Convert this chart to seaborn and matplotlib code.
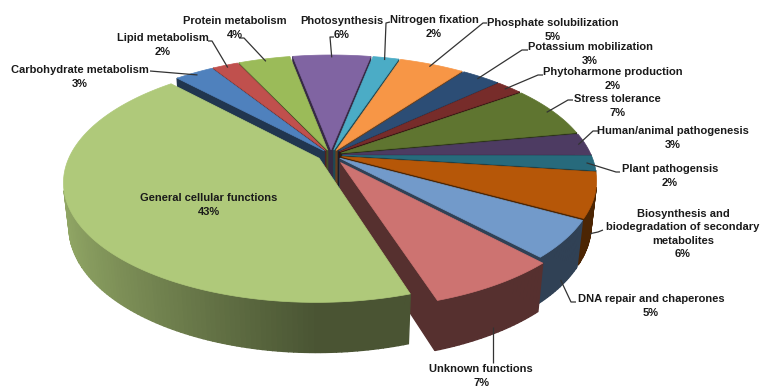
import numpy as np
import matplotlib
matplotlib.use("Agg")
import matplotlib.pyplot as plt
from matplotlib.patches import Polygon
import matplotlib.colors as mcolors
import seaborn as sns

# ---- data -------------------------------------------------------------
categories = [
    "Carbohydrate metabolism", "Lipid metabolism", "Protein metabolism",
    "Photosynthesis", "Nitrogen fixation", "Phosphate solubilization",
    "Potassium mobilization", "Phytoharmone production", "Stress tolerance",
    "Human/animal pathogenesis", "Plant pathogensis",
    "Biosynthesis and\nbiodegradation of secondary\nmetabolites",
    "DNA repair and chaperones", "Unknown functions",
    "General cellular functions",
]
shares = [3, 2, 4, 6, 2, 5, 3, 2, 7, 3, 2, 6, 5, 7, 43]

# ---- style ------------------------------------------------------------
colors = [
    "#4F81BD", "#C0504D", "#9BBB59", "#8064A2", "#4BACC6", "#F79646",
    "#2C4D75", "#772C2A", "#5F7530", "#4D3B62", "#276A7C", "#B65708",
    "#729ACA", "#CD7371", "#AFC97A",
]
explode = [0.045] * 13 + [0.075, 0.055]

# label block centres and the start/elbow of each leader (pixel space)
label_pos = [
    (80, 77), (163, 45), (235, 28), (342, 28), (434, 27), (553, 30),
    (590, 54), (613, 79), (617, 106), (673, 138), (670, 176), (683, 234),
    (651, 306), (481, 376), (209, 205),
]
leader_start = [
    [(150, 71)],
    [(208, 41), (212, 41)],
    [(239, 38), (244, 38)],
    [(334, 37), (330, 37)],
    [(390, 22), (386, 23)],
    [(487, 23), (483, 23)],
    [(528, 50), (522, 50)],
    [(543, 75), (538, 75)],
    [(573, 100), (568, 100)],
    [(598, 131), (593, 131)],
    [(620, 172), (616, 172)],
    [(603, 230), (598, 232)],
    [(576, 302), (571, 302)],
    "drop",          # vertical leader rising to the slice
    None,
]
DROP_Y = 363

sns.set_theme(style="white")
plt.rcParams["font.family"] = ["Liberation Sans", "DejaVu Sans"]

W, H = 761, 387
fig = plt.figure(figsize=(W / 100, H / 100), dpi=100)
ax = fig.add_axes([0, 0, 1, 1])
ax.set_xlim(0, W)
ax.set_ylim(H, 0)
ax.axis("off")

# ---- perspective 3-D pie ----------------------------------------------
CX, CY = 331, 155
SCALE = 249
ELEV = np.radians(27.5)
DIST = 4.6
THICK = 0.2
START = 133.0

cam = np.array([0.0, -DIST * np.cos(ELEV), DIST * np.sin(ELEV)])


def project(p):
    X, Y, Z = p
    yv = Y * np.sin(ELEV) + Z * np.cos(ELEV)
    zv = DIST + Y * np.cos(ELEV) - Z * np.sin(ELEV)
    f = DIST / zv
    return (CX + SCALE * X * f, CY - SCALE * yv * f)


def shade(c, k):
    r, g, b = mcolors.to_rgb(c)
    return (r * k, g * k, b * k)


side_faces = []   # (distance, polygon, colour)
top_faces = []
anchors = []

cum = 0.0
for share, col, ex in zip(shares, colors, explode):
    a_hi = START - cum * 3.6
    a_lo = a_hi - share * 3.6
    cum += share
    mid = np.radians((a_hi + a_lo) / 2)
    ox, oy = ex * np.cos(mid), ex * np.sin(mid)
    n = max(6, int(a_hi - a_lo))
    ts = np.radians(np.linspace(a_lo, a_hi, n + 1))

    def rim(t, z, ox=ox, oy=oy):
        return np.array([ox + np.cos(t), oy + np.sin(t), z])

    apex_t = np.array([ox, oy, 0.0])
    apex_b = np.array([ox, oy, -THICK])

    # leader anchor: top rim for far slices, lower wall for near ones
    z_anchor = -0.85 * THICK if np.sin(mid) < -0.25 else 0.0
    r_anchor = 1.0 if z_anchor < 0 else 0.97
    anchors.append(project(np.array([ox + r_anchor * np.cos(mid),
                                     oy + r_anchor * np.sin(mid), z_anchor])))

    # top face
    pts = [project(apex_t)] + [project(rim(t, 0.0)) for t in ts]
    top_faces.append((pts, col))

    # curved outer wall
    for t0, t1 in zip(ts[:-1], ts[1:]):
        tm = (t0 + t1) / 2
        quad = [rim(t0, 0.0), rim(t1, 0.0), rim(t1, -THICK), rim(t0, -THICK)]
        cen = np.mean(quad, axis=0)
        normal = np.array([np.cos(tm), np.sin(tm), 0.0])
        if normal @ (cam - cen) > 0:
            k = 0.42 + 0.43 * max(0.0, -np.cos(tm))
            side_faces.append((np.linalg.norm(cam - cen),
                               [project(q) for q in quad], shade(col, k)))

    # flat radial walls
    for t, normal in (
        (ts[0], np.array([np.sin(ts[0]), -np.cos(ts[0]), 0.0])),
        (ts[-1], np.array([-np.sin(ts[-1]), np.cos(ts[-1]), 0.0])),
    ):
        quad = [apex_t, rim(t, 0.0), rim(t, -THICK), apex_b]
        cen = np.mean(quad, axis=0)
        if normal @ (cam - cen) > 0:
            side_faces.append((np.linalg.norm(cam - cen),
                               [project(q) for q in quad], shade(col, 0.42)))

for _, poly, c in sorted(side_faces, key=lambda s: -s[0]):
    ax.add_patch(Polygon(poly, closed=True, facecolor=c, edgecolor=c,
                         linewidth=1.0, joinstyle="miter"))
for poly, c in top_faces:
    ax.add_patch(Polygon(poly, closed=True, facecolor=c, edgecolor=c,
                         linewidth=0.5))

# ---- labels -----------------------------------------------------------
for name, share, (x, y), lead, anc in zip(categories, shares, label_pos,
                                          leader_start, anchors):
    ax.text(x, y, f"{name}\n{share}%", ha="center", va="center",
            multialignment="center", fontsize=8, fontweight="bold",
            color="#1a1a1a", linespacing=1.4)
    if lead is None:
        continue
    if lead == "drop":
        path = [(anc[0], DROP_Y), anc]
    else:
        path = lead + [anc]
    xs, ys = zip(*path)
    ax.plot(xs, ys, color="#333333", lw=0.9, solid_capstyle="butt")

fig.savefig("out.png", dpi=100)
